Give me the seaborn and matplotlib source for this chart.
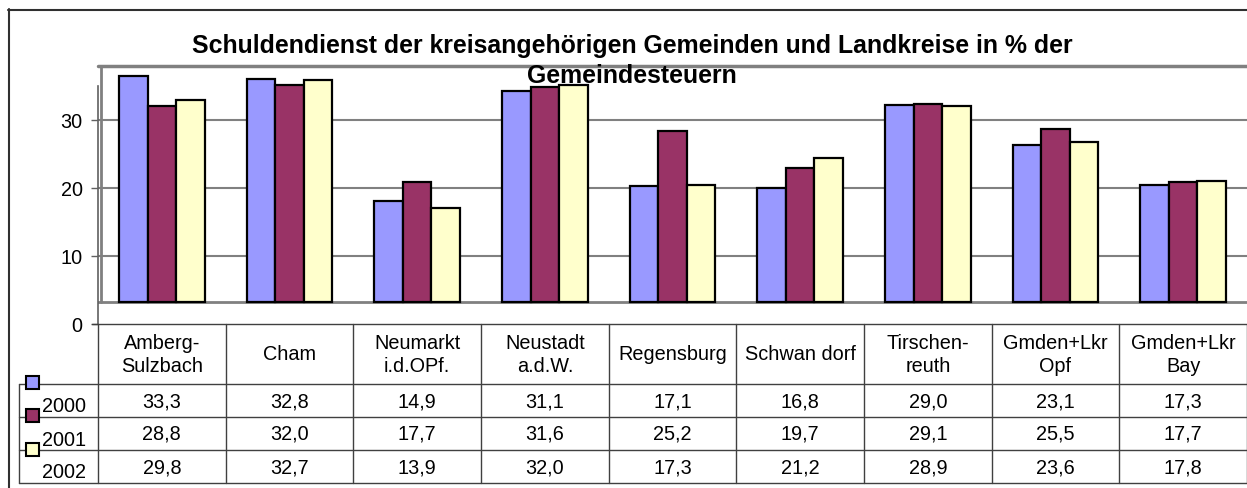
import matplotlib
matplotlib.use("Agg")
import matplotlib.pyplot as plt
import numpy as np
import pandas as pd
import seaborn as sns


regions = [
    "Amberg-\nSulzbach", "Cham", "Neumarkt\ni.d.OPf.", "Neustadt\na.d.W.", "Regensburg",
    "Schwan dorf", "Tirschen-\nreuth", "Gmden+Lkr\nOpf", "Gmden+Lkr\nBay",
]
years = ["2000", "2001", "2002"]
y2000 = [33.3, 32.8, 14.9, 31.1, 17.1, 16.8, 29.0, 23.1, 17.3]
y2001 = [28.8, 32.0, 17.7, 31.6, 25.2, 19.7, 29.1, 25.5, 17.7]
y2002 = [29.8, 32.7, 13.9, 32.0, 17.3, 21.2, 28.9, 23.6, 17.8]
colors = ["#9999FF", "#993366", "#FFFFCC"]
yticks = [0, 10, 20, 30]
title = "Schuldendienst der kreisangehörigen Gemeinden und Landkreise in % der\nGemeindesteuern"

FLOOR = 3.2  # excel draws the floor of the plot a bit above zero
FS = 14.3

sns.set_style("white")
plt.rcParams["font.family"] = ["Liberation Sans", "DejaVu Sans"]
plt.rcParams["text.color"] = "black"
plt.rcParams["ytick.color"] = "black"
plt.rcParams["ytick.labelcolor"] = "black"

df = pd.DataFrame({"region": regions * 3,
                   "year": np.repeat(years, len(regions)),
                   "value": y2000 + y2001 + y2002})

W, H = 1247, 489
fig = plt.figure(figsize=(W / 100, H / 100), dpi=100)

# chart area in pixel units: x 98..1247, y 67..325
ax = fig.add_axes([98 / W, (H - 325) / H, (W - 98) / W, (325 - 67) / H])
sns.barplot(data=df, x="region", y="value", hue="year", hue_order=years,
            palette=colors, saturation=1, width=0.67, errorbar=None, legend=False,
            bottom=FLOOR, edgecolor="black", linewidth=1.6, ax=ax, zorder=3)
ax.set_xlim(-0.5, len(regions) - 0.5)
ax.set_ylim(0, (325 - 67) / 6.8)

for t in yticks[1:]:
    ax.axhline(t, color="#808080", lw=1.5, zorder=1)
ax.axhline(FLOOR, color="#808080", lw=2, zorder=2)
ax.axhline(ax.get_ylim()[1], color="#808080", lw=2.5, zorder=2, clip_on=False)
ax.plot([-0.48, -0.48], [FLOOR, ax.get_ylim()[1]], color="#808080", lw=2, zorder=2)

for s in ["top", "right", "bottom"]:
    ax.spines[s].set_visible(False)
ax.spines["left"].set_color("#606060")
ax.spines["left"].set_linewidth(1.2)
ax.spines["left"].set_bounds(0, 35)
ax.set_yticks(yticks)
ax.tick_params(axis="y", direction="out", length=5, width=1, color="#606060",
               labelsize=FS, pad=6, left=True)
ax.set_xticks([])
ax.set_xlabel("")
ax.set_ylabel("")
ax.patch.set_alpha(0)

# overlay in pixel coords for frame, title and data table
ov = fig.add_axes([0, 0, 1, 1])
ov.set_xlim(0, W)
ov.set_ylim(H, 0)
ov.axis("off")
ov.patch.set_alpha(0)

ov.plot([8, W], [10.5, 10.5], color="#303030", lw=1.5)
ov.plot([8.5, 8.5], [10, H], color="#303030", lw=1.5)

ov.text(632, 34, title, ha="center", va="top", fontsize=17.9, fontweight="bold",
        linespacing=1.32)

col_w = (W - 98) / len(regions)
edges = [98 + i * col_w for i in range(len(regions) + 1)]
row_y = [325, 385, 418, 451, 484]
line_c = "#404040"

ov.plot([92, W], [325, 325], color=line_c, lw=1)
for y in row_y[1:]:
    ov.plot([19, W], [y, y], color=line_c, lw=1)
for x in edges:
    ov.plot([x, x], [325, 484], color=line_c, lw=1)
ov.plot([19, 19], [385, 484], color=line_c, lw=1)

for i, name in enumerate(regions):
    cx = (edges[i] + edges[i + 1]) / 2
    ov.text(cx, 355, name, ha="center", va="center", fontsize=FS, linespacing=1.3)
    for j, vals in enumerate([y2000, y2001, y2002]):
        cy = (row_y[j + 1] + row_y[j + 2]) / 2
        ov.text(cx, cy, f"{vals[i]:.1f}".replace(".", ","), ha="center", va="center",
                fontsize=FS)

key_y = [383, 416.5, 450]
lab_y = [406, 440, 473]
for j, yr in enumerate(years):
    ov.add_patch(plt.Rectangle((26, key_y[j] - 6.5), 12.5, 13, facecolor=colors[j],
                               edgecolor="black", lw=1.5, zorder=5))
    ov.text(42, lab_y[j], yr, ha="left", va="center", fontsize=FS)

fig.savefig("out.png", dpi=100)
